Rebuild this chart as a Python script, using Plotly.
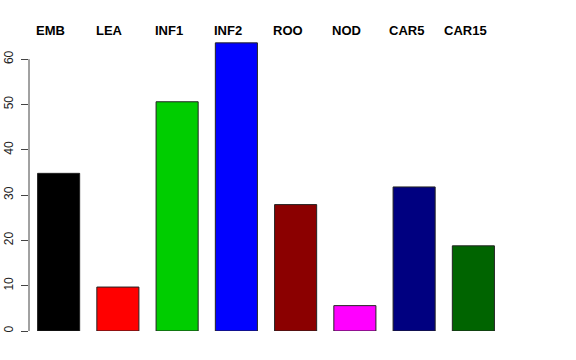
import plotly.graph_objects as go

categories = ["EMB", "LEA", "INF1", "INF2", "ROO", "NOD", "CAR5", "CAR15"]
values = [34.8, 9.7, 50.6, 63.6, 27.9, 5.6, 31.8, 18.8]
colors = ["#000000", "#FF0000", "#00CD00", "#0000FF", "#8B0000", "#FF00FF", "#000080", "#006400"]
y_ticks = [0, 10, 20, 30, 40, 50, 60]

xs = list(range(len(categories)))

fig = go.Figure()
fig.add_trace(go.Bar(
    x=xs, y=values,
    marker=dict(color=colors, line=dict(color="#222222", width=1)),
    showlegend=False, hoverinfo="skip",
))

for i, c in enumerate(categories):
    fig.add_annotation(
        x=i, xref="x", y=1, yref="paper", yanchor="middle", yshift=2, xshift=-8,
        text=c, showarrow=False,
        font=dict(family="Liberation Sans, Arial, Helvetica", size=13, color="black", weight="bold"),
    )

# R-style y axis line spanning only the tick range
fig.add_shape(type="line", xref="paper", yref="y", x0=0, x1=0,
              y0=min(y_ticks), y1=max(y_ticks), line=dict(color="#444444", width=1))

fig.update_layout(
    width=576, height=360,
    margin=dict(l=29, r=73, t=32, b=29, autoexpand=False),
    paper_bgcolor="white", plot_bgcolor="white",
    bargap=0.29,
    hovermode=False,
    xaxis=dict(range=[-0.5, 7.5], visible=False, fixedrange=True, automargin=False),
    yaxis=dict(range=[0, 66], tickvals=y_ticks, ticktext=[str(v) for v in y_ticks],
               showgrid=False, zeroline=False, showline=False, automargin=False,
               fixedrange=True,
               ticks="outside", ticklen=7, tickcolor="#444444", tickwidth=1,
               tickangle=-90, ticklabelstandoff=3,
               tickfont=dict(family="Liberation Sans, Arial, Helvetica", size=12, color="#222222")),
    font=dict(family="Liberation Sans, Arial, Helvetica"),
)

fig.write_html("out.html", config={"displayModeBar": False},
               post_script="document.body.style.margin='0';")
